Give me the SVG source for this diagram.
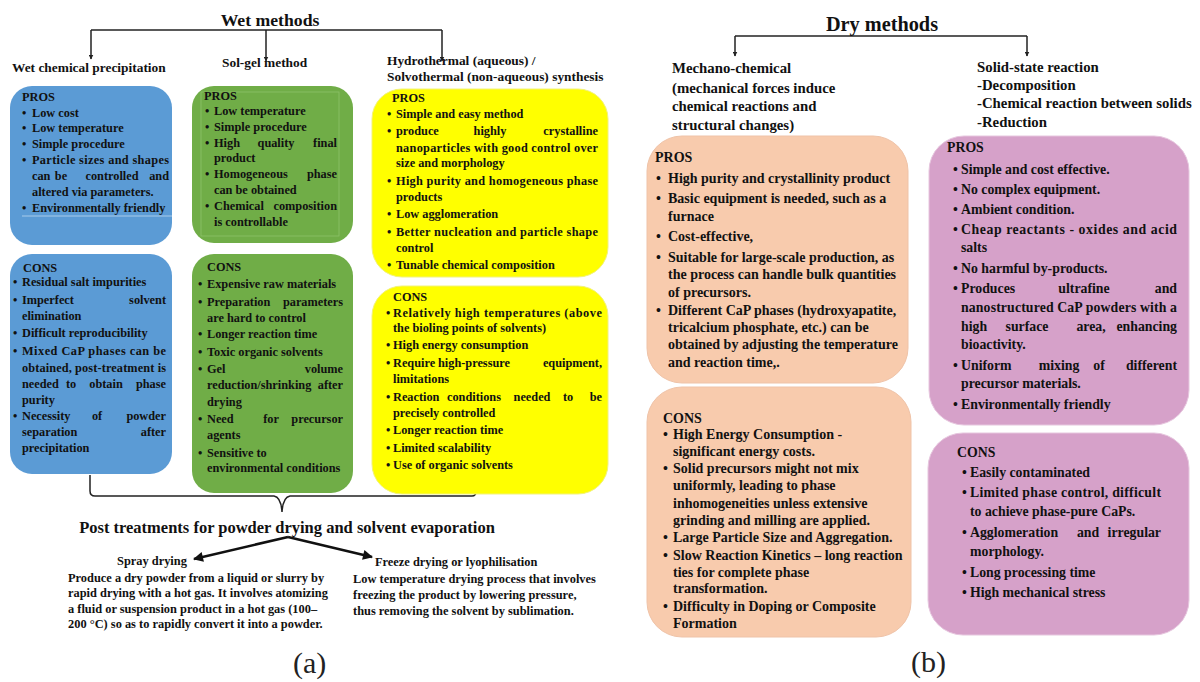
<svg xmlns="http://www.w3.org/2000/svg" width="1200" height="682" viewBox="0 0 1200 682">
<defs>
<style>
.t{font-family:"Liberation Serif","Times New Roman",serif;font-weight:bold;fill:#111}
.a{font-size:12.3px}
.b{font-size:14px}
.p{font-size:13.8px}
.h{font-size:13.4px}
.h2{font-size:14.8px}
.e{text-anchor:end}
.m{text-anchor:middle}
.ln{fill:none;stroke:#222;stroke-width:1.5}
.ar{fill:none;stroke:#111;stroke-width:2.6}
.lab{font-family:"Liberation Serif","Times New Roman",serif;font-size:30px;fill:#222}
</style>
<marker id="tip" viewBox="0 0 10 10" refX="9" refY="5" markerWidth="5" markerHeight="5" orient="auto" markerUnits="userSpaceOnUse"><path d="M0,0 L10,5 L0,10 z" fill="#222"/></marker>
<marker id="big" viewBox="0 0 10 10" refX="9" refY="5" markerWidth="13" markerHeight="10" orient="auto" markerUnits="userSpaceOnUse"><path d="M0,0 L10,5 L0,10 z" fill="#111"/></marker>
</defs>
<rect width="1200" height="682" fill="#fff"/>

<g id="connectors">
<path class="ln" d="M91 30 H442"/>
<path class="ln" d="M91 30 V59" marker-end="url(#tip)"/>
<path class="ln" d="M266 30 V61" marker-end="url(#tip)"/>
<path class="ln" d="M442 30 V61" marker-end="url(#tip)"/>
<path class="ln" d="M735 36 H1027"/>
<path class="ln" d="M735 36 V56" marker-end="url(#tip)"/>
<path class="ln" d="M1027 36 V56" marker-end="url(#tip)"/>
<path class="ln" d="M90 475 V491 Q90 496 95 496 H274 Q281 497 282 512 Q283 497 290 496 H472 Q476 496 476 491 L477 476"/>
<path class="ar" d="M288 537 L194 559" marker-end="url(#big)"/>
<path class="ar" d="M288 537 L372 557" marker-end="url(#big)"/>
</g>

<g id="titles">
<text class="t m" x="270" y="26" style="font-size:17.7px">Wet methods</text>
<text class="t m" x="882" y="31" style="font-size:20.3px">Dry methods</text>
<text class="t h" x="12" y="72">Wet chemical precipitation</text>
<text class="t h" x="222" y="67">Sol-gel method</text>
<text class="t h" x="387" y="65">Hydrothermal (aqueous) /</text>
<text class="t h" x="387" y="81">Solvothermal (non-aqueous) synthesis</text>
<text class="t h2" x="672" y="73">Mechano-chemical</text>
<text class="t h2" x="672" y="93">(mechanical forces induce</text>
<text class="t h2" x="672" y="111">chemical reactions and</text>
<text class="t h2" x="672" y="130">structural changes)</text>
<text class="t h2" x="977" y="72">Solid-state reaction</text>
<text class="t h2" x="977" y="90">-Decomposition</text>
<text class="t h2" x="977" y="108">-Chemical reaction between solids</text>
<text class="t h2" x="977" y="127">-Reduction</text>
</g>

<g id="wet-chem-pros">
<rect x="10" y="86" width="162" height="159" rx="22" fill="#5B9BD5"/>
<line x1="22" y1="216" x2="172" y2="216" stroke="#A9CBEA" stroke-width="1"/>
<text class="t a" x="22" y="101">PROS</text>
<g class="t a">
<text x="22" y="117">•</text><text x="32" y="117">Low cost</text>
<text x="22" y="132">•</text><text x="32" y="132">Low temperature</text>
<text x="22" y="148">•</text><text x="32" y="148">Simple procedure</text>
<text x="22" y="164">•</text><text x="32" y="164" textLength="137" lengthAdjust="spacing">Particle sizes and shapes</text>
<text x="32" y="180">can</text><text class="m" x="61" y="180">be</text><text class="m" x="112" y="180">controlled</text><text class="e" x="169" y="180">and</text>
<text x="32" y="196">altered via parameters.</text>
<text x="22" y="212">•</text><text x="32" y="212">Environmentally friendly</text>
</g>
</g>

<g id="wet-chem-cons">
<rect x="10" y="254" width="162" height="220" rx="22" fill="#5B9BD5"/>
<text class="t a" x="23" y="272">CONS</text>
<g class="t a">
<text x="13" y="286">•</text><text x="22" y="286">Residual salt impurities</text>
<text x="13" y="304">•</text><text x="22" y="304">Imperfect</text><text class="e" x="166" y="304">solvent</text>
<text x="22" y="320">elimination</text>
<text x="13" y="337">•</text><text x="22" y="337">Difficult reproducibility</text>
<text x="13" y="355">•</text><text x="22" y="355" textLength="144" lengthAdjust="spacing">Mixed CaP phases can be</text>
<text x="22" y="372" textLength="144" lengthAdjust="spacing">obtained, post-treatment is</text>
<text x="22" y="388">needed</text><text class="m" x="71" y="388">to</text><text class="m" x="106" y="388">obtain</text><text class="e" x="166" y="388">phase</text>
<text x="22" y="404">purity</text>
<text x="13" y="420">•</text><text x="22" y="420">Necessity</text><text class="m" x="97" y="420">of</text><text class="e" x="166" y="420">powder</text>
<text x="22" y="436">separation</text><text class="e" x="166" y="436">after</text>
<text x="22" y="452">precipitation</text>
</g>
</g>

<g id="sol-gel-pros">
<rect x="192" y="86" width="161" height="157" rx="22" fill="#70AD47"/>
<rect x="201" y="92" width="138" height="144" fill="none" stroke="#8DC06A" stroke-width="0.8"/>
<text class="t a" x="204" y="100">PROS</text>
<g class="t a">
<text x="205" y="115">•</text><text x="214" y="115">Low temperature</text>
<text x="205" y="131">•</text><text x="214" y="131">Simple procedure</text>
<text x="205" y="147">•</text><text x="214" y="147">High</text><text class="m" x="276" y="147">quality</text><text class="e" x="337" y="147">final</text>
<text x="214" y="162">product</text>
<text x="205" y="178">•</text><text x="214" y="178">Homogeneous</text><text class="e" x="337" y="178">phase</text>
<text x="214" y="194">can be obtained</text>
<text x="205" y="210">•</text><text x="214" y="210">Chemical</text><text class="e" x="337" y="210">composition</text>
<text x="214" y="226">is controllable</text>
</g>
</g>

<g id="sol-gel-cons">
<rect x="192" y="254" width="161" height="239" rx="22" fill="#70AD47"/>
<text class="t a" x="207" y="271">CONS</text>
<g class="t a">
<text x="198" y="288">•</text><text x="207" y="288">Expensive raw materials</text>
<text x="198" y="306">•</text><text x="207" y="306">Preparation</text><text class="e" x="343" y="306">parameters</text>
<text x="207" y="322">are hard to control</text>
<text x="198" y="338">•</text><text x="207" y="338">Longer reaction time</text>
<text x="198" y="356">•</text><text x="207" y="356">Toxic organic solvents</text>
<text x="198" y="373">•</text><text x="207" y="373">Gel</text><text class="e" x="343" y="373">volume</text>
<text x="207" y="389">reduction/shrinking</text><text class="e" x="343" y="389">after</text>
<text x="207" y="406">drying</text>
<text x="198" y="423">•</text><text x="207" y="423">Need</text><text class="m" x="271" y="423">for</text><text class="e" x="343" y="423">precursor</text>
<text x="207" y="439">agents</text>
<text x="198" y="457">•</text><text x="207" y="457">Sensitive to</text>
<text x="207" y="472">environmental conditions</text>
</g>
</g>

<g id="hydro-pros">
<rect x="372" y="89" width="236" height="188" rx="30" fill="#FFFF00" stroke="#F2F27A" stroke-width="1"/>
<text class="t a" x="392" y="102">PROS</text>
<g class="t a">
<text x="387" y="118">•</text><text x="396" y="118">Simple and easy method</text>
<text x="387" y="135">•</text><text x="396" y="135">produce</text><text class="m" x="490" y="135">highly</text><text class="e" x="598" y="135">crystalline</text>
<text x="396" y="152" textLength="202" lengthAdjust="spacing">nanoparticles with good control over</text>
<text x="396" y="167">size and morphology</text>
<text x="387" y="185">•</text><text x="396" y="185" textLength="202" lengthAdjust="spacing">High purity and homogeneous phase</text>
<text x="396" y="201">products</text>
<text x="387" y="218">•</text><text x="396" y="218">Low agglomeration</text>
<text x="387" y="236">•</text><text x="396" y="236" textLength="202" lengthAdjust="spacing">Better nucleation and particle shape</text>
<text x="396" y="252">control</text>
<text x="387" y="269">•</text><text x="396" y="269">Tunable chemical composition</text>
</g>
</g>

<g id="hydro-cons">
<rect x="372" y="286" width="236" height="208" rx="30" fill="#FFFF00" stroke="#F2F27A" stroke-width="1"/>
<text class="t a" x="393" y="301">CONS</text>
<g class="t a">
<text x="386" y="317">•</text><text x="393" y="317" textLength="209" lengthAdjust="spacing">Relatively high temperatures (above</text>
<text x="393" y="332">the bioling points of solvents)</text>
<text x="386" y="349">•</text><text x="393" y="349">High energy consumption</text>
<text x="386" y="367">•</text><text x="393" y="367">Require</text><text class="m" x="474" y="367">high-pressure</text><text class="e" x="602" y="367">equipment,</text>
<text x="393" y="383">limitations</text>
<text x="386" y="401">•</text><text x="393" y="401">Reaction</text><text x="447" y="401">conditions</text><text class="m" x="532" y="401">needed</text><text class="m" x="568" y="401">to</text><text class="e" x="602" y="401">be</text>
<text x="393" y="417">precisely controlled</text>
<text x="386" y="434">•</text><text x="393" y="434">Longer reaction time</text>
<text x="386" y="452">•</text><text x="393" y="452">Limited scalability</text>
<text x="386" y="469">•</text><text x="393" y="469">Use of organic solvents</text>
</g>
</g>

<g id="post-treatments">
<text class="t m" x="287" y="533" style="font-size:16.5px">Post treatments for powder drying and solvent evaporation</text>
</g>

<g id="spray-drying">
<g class="t" style="font-size:12.4px">
<text x="117" y="565">Spray drying</text>
<text x="68" y="582">Produce a dry powder from a liquid or slurry by</text>
<text x="68" y="597">rapid drying with a hot gas. It involves atomizing</text>
<text x="68" y="613">a fluid or suspension product in a hot gas (100–</text>
<text x="68" y="628">200 °C) so as to rapidly convert it into a powder.</text>
</g>
</g>

<g id="freeze-drying">
<g class="t" style="font-size:12.4px">
<text x="375" y="566">Freeze drying or lyophilisation</text>
<text x="353" y="583">Low temperature drying process that involves</text>
<text x="353" y="599">freezing the product by lowering pressure,</text>
<text x="353" y="615">thus removing the solvent by sublimation.</text>
</g>
</g>

<g id="mech-pros">
<rect x="647" y="136" width="261" height="247" rx="35" fill="#F8CBAD" stroke="#EFC3A8" stroke-width="1"/>
<text class="t b" x="655" y="162">PROS</text>
<g class="t b">
<text x="656" y="183">•</text><text x="668" y="183">High purity and crystallinity product</text>
<text x="656" y="203">•</text><text x="668" y="203">Basic equipment is needed, such as a</text>
<text x="668" y="221">furnace</text>
<text x="656" y="241">•</text><text x="668" y="241">Cost-effective,</text>
<text x="656" y="262">•</text><text x="668" y="262">Suitable for large-scale production, as</text>
<text x="668" y="279">the process can handle bulk quantities</text>
<text x="668" y="297">of precursors.</text>
<text x="656" y="315">•</text><text x="668" y="315">Different CaP phases (hydroxyapatite,</text>
<text x="668" y="332">tricalcium phosphate, etc.) can be</text>
<text x="668" y="349">obtained by adjusting the temperature</text>
<text x="668" y="367">and reaction time,.</text>
</g>
</g>

<g id="mech-cons">
<rect x="647" y="387" width="264" height="250" rx="35" fill="#F8CBAD" stroke="#EFC3A8" stroke-width="1"/>
<text class="t b" x="663" y="423">CONS</text>
<g class="t b">
<text x="663" y="439">•</text><text x="673" y="439">High Energy Consumption -</text>
<text x="673" y="456">significant energy costs.</text>
<text x="663" y="473">•</text><text x="673" y="473">Solid precursors might not mix</text>
<text x="673" y="490">uniformly, leading to phase</text>
<text x="673" y="508">inhomogeneities unless extensive</text>
<text x="673" y="525">grinding and milling are applied.</text>
<text x="663" y="542">•</text><text x="673" y="542">Large Particle Size and Aggregation.</text>
<text x="663" y="560">•</text><text x="673" y="560">Slow Reaction Kinetics – long reaction</text>
<text x="673" y="577">ties for complete phase</text>
<text x="673" y="593">transformation.</text>
<text x="663" y="611">•</text><text x="673" y="611">Difficulty in Doping or Composite</text>
<text x="673" y="628">Formation</text>
</g>
</g>

<g id="solid-pros">
<rect x="929" y="136" width="260" height="289" rx="35" fill="#D6A1C9" stroke="#E6C6DE" stroke-width="1"/>
<text class="t p" x="947" y="152">PROS</text>
<g class="t p">
<text x="953" y="174">•</text><text x="961" y="174">Simple and cost effective.</text>
<text x="953" y="194">•</text><text x="961" y="194">No complex equipment.</text>
<text x="953" y="214">•</text><text x="961" y="214">Ambient condition.</text>
<text x="953" y="234">•</text><text x="961" y="234" textLength="216" lengthAdjust="spacing">Cheap reactants - oxides and acid</text>
<text x="961" y="252">salts</text>
<text x="953" y="273">•</text><text x="961" y="273">No harmful by-products.</text>
<text x="953" y="293">•</text><text x="961" y="293">Produces</text><text class="m" x="1084" y="293">ultrafine</text><text class="e" x="1177" y="293">and</text>
<text x="961" y="312" textLength="216" lengthAdjust="spacing">nanostructured CaP powders with a</text>
<text x="961" y="331">high</text><text class="m" x="1027" y="331">surface</text><text class="m" x="1091" y="331">area,</text><text class="e" x="1177" y="331">enhancing</text>
<text x="961" y="349">bioactivity.</text>
<text x="953" y="370">•</text><text x="961" y="370">Uniform</text><text class="m" x="1059" y="370">mixing</text><text class="m" x="1099" y="370">of</text><text class="e" x="1177" y="370">different</text>
<text x="961" y="388">precursor materials.</text>
<text x="953" y="409">•</text><text x="961" y="409">Environmentally friendly</text>
</g>
</g>

<g id="solid-cons">
<rect x="928" y="433" width="261" height="202" rx="35" fill="#D6A1C9" stroke="#E6C6DE" stroke-width="1"/>
<text class="t p" x="957" y="457">CONS</text>
<g class="t p">
<text x="962" y="477">•</text><text x="970" y="477">Easily contaminated</text>
<text x="962" y="497">•</text><text x="970" y="497" textLength="191" lengthAdjust="spacing">Limited phase control, difficult</text>
<text x="970" y="516">to achieve phase-pure CaPs.</text>
<text x="962" y="537">•</text><text x="970" y="537">Agglomeration</text><text class="m" x="1088" y="537">and</text><text class="e" x="1161" y="537">irregular</text>
<text x="970" y="556">morphology.</text>
<text x="962" y="577">•</text><text x="970" y="577">Long processing time</text>
<text x="962" y="597">•</text><text x="970" y="597">High mechanical stress</text>
</g>
</g>

<g id="panel-labels">
<text class="lab" x="293" y="673">(a)</text>
<text class="lab" x="911" y="672">(b)</text>
</g>
</svg>
